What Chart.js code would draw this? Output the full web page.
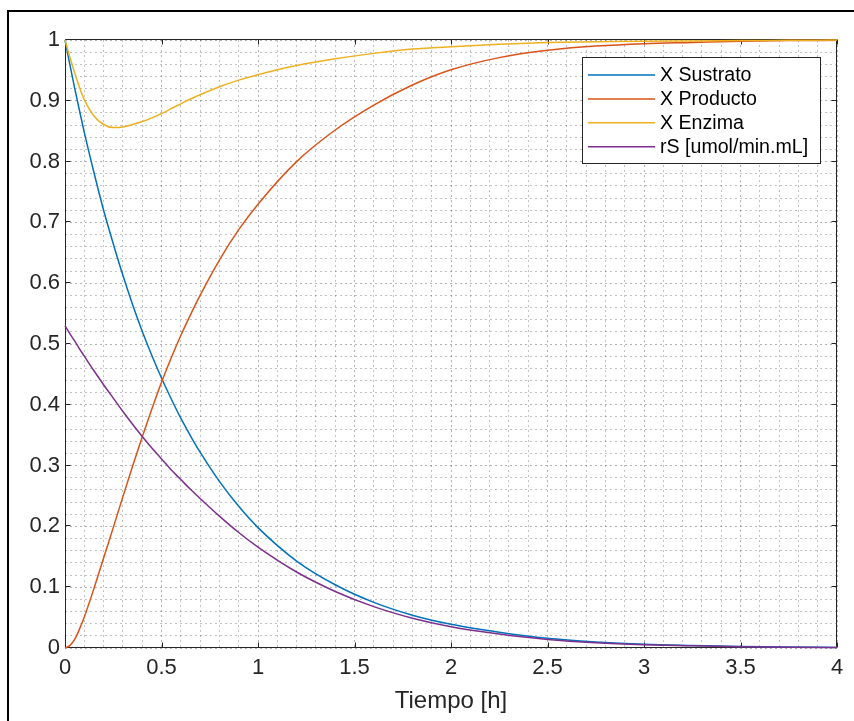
<!DOCTYPE html>
<html>
<head>
<meta charset="utf-8">
<script src="https://cdn.jsdelivr.net/npm/chart.js@4.4.1/dist/chart.umd.min.js"></script>
<style>
  html, body { margin: 0; padding: 0; background: #ffffff; }
  canvas { display: block; }
</style>
</head>
<body>
<canvas id="grafico" width="854" height="721"></canvas>
<script>
// Tiempo de reacción [h]
const tiempo = [0, 0.025, 0.05, 0.075, 0.1, 0.15, 0.2, 0.25, 0.3, 0.35, 0.4, 0.45, 0.5, 0.55, 0.6, 0.65, 0.7, 0.8, 0.9, 1.0,
                1.2, 1.4, 1.6, 1.8, 2.0, 2.25, 2.5, 2.75, 3.0, 3.25, 3.5, 3.75, 4.0];

// Fracciones adimensionales y velocidad de consumo de sustrato
const xSustrato = [1.000, 0.960, 0.921, 0.884, 0.848, 0.782, 0.720, 0.665, 0.613, 0.565, 0.521, 0.481, 0.444, 0.410, 0.378, 0.349, 0.322, 0.274, 0.233, 0.198,
                   0.143, 0.104, 0.075, 0.054, 0.039, 0.026, 0.016, 0.010, 0.006, 0.004, 0.0025, 0.0015, 0.001];
const xProducto = [0.000, 0.004, 0.014, 0.031, 0.051, 0.098, 0.148, 0.198, 0.249, 0.299, 0.347, 0.393, 0.437, 0.477, 0.514, 0.548, 0.580, 0.638, 0.688, 0.730,
                   0.800, 0.852, 0.893, 0.926, 0.951, 0.971, 0.983, 0.990, 0.994, 0.996, 0.998, 0.999, 0.9995];
const xEnzima   = [1.000, 0.972, 0.946, 0.922, 0.902, 0.875, 0.861, 0.856, 0.857, 0.861, 0.866, 0.872, 0.879, 0.887, 0.895, 0.903, 0.910, 0.923, 0.934, 0.943,
                   0.958, 0.969, 0.978, 0.985, 0.989, 0.993, 0.996, 0.997, 0.998, 0.9985, 0.999, 0.9995, 1.000];
const rS        = [0.530, 0.517, 0.505, 0.492, 0.480, 0.456, 0.433, 0.411, 0.389, 0.368, 0.348, 0.329, 0.311, 0.293, 0.277, 0.261, 0.246, 0.217, 0.190, 0.166,
                   0.125, 0.093, 0.068, 0.049, 0.035, 0.023, 0.014, 0.0085, 0.0053, 0.0035, 0.0022, 0.0013, 0.0009];

const nombresSeries = ['X Sustrato', 'X Producto', 'X Enzima', 'rS [umol/min.mL]'];
const coloresSeries = ['#0072BD', '#D95319', '#EDB120', '#7E2F8E'];

const xTickLabels = ['0', '0.5', '1', '1.5', '2', '2.5', '3', '3.5', '4'];
const yTickLabels = ['0', '0.1', '0.2', '0.3', '0.4', '0.5', '0.6', '0.7', '0.8', '0.9', '1'];
const tituloX = 'Tiempo [h]';

const FUENTE = "'Liberation Sans', Arial, Helvetica, sans-serif";
const GRIS_EJES = '#262626';

const valores = [xSustrato, xProducto, xEnzima, rS];
const datasets = valores.map((serie, i) => ({
  label: nombresSeries[i],
  data: tiempo.map((t, k) => ({ x: t, y: serie[k] })),
  borderColor: coloresSeries[i],
  backgroundColor: coloresSeries[i],
  borderWidth: 1.5,
  pointRadius: 0,
  fill: false,
  cubicInterpolationMode: 'monotone',
  clip: 3,
  order: valores.length - 1 - i
}));

// Fondo blanco y marco exterior de la figura
const marcoFigura = {
  id: 'marcoFigura',
  beforeDraw(chart) {
    const { ctx, width, height } = chart;
    ctx.save();
    ctx.fillStyle = '#ffffff';
    ctx.fillRect(0, 0, width, height);
    ctx.fillStyle = '#000000';
    ctx.fillRect(7, 10, width - 7, 2);
    ctx.fillRect(7, 10, 2, height - 10);
    ctx.restore();
  }
};

// Caja de ejes con marcas hacia dentro en los cuatro lados
const cajaEjes = {
  id: 'cajaEjes',
  beforeDatasetsDraw(chart) {
    const { ctx, chartArea: a, scales: { x, y } } = chart;
    const L = Math.round(a.left) + 0.5, R = Math.round(a.right) - 0.5;
    const T = Math.round(a.top) - 0.5, B = Math.round(a.bottom) - 0.5;
    const largo = 5;
    ctx.save();
    ctx.strokeStyle = GRIS_EJES;
    ctx.lineWidth = 1;
    ctx.beginPath();
    ctx.rect(L, T, R - L, B - T);
    xTickLabels.forEach(lbl => {
      const px = Math.round(x.getPixelForValue(parseFloat(lbl))) + 0.5;
      ctx.moveTo(px, B); ctx.lineTo(px, B - largo);
      ctx.moveTo(px, T); ctx.lineTo(px, T + largo);
    });
    yTickLabels.forEach(lbl => {
      const py = Math.round(y.getPixelForValue(parseFloat(lbl))) - 0.5;
      ctx.moveTo(L, py); ctx.lineTo(L + largo, py);
      ctx.moveTo(R, py); ctx.lineTo(R - largo, py);
    });
    ctx.stroke();
    ctx.restore();
  }
};

// Leyenda dentro del área de trazado, esquina superior derecha
const leyenda = {
  id: 'leyenda',
  afterDatasetsDraw(chart) {
    const { ctx, chartArea: a } = chart;
    const bx = Math.round(a.right) - 255, by = Math.round(a.top) + 17;
    const bw = 238, bh = 106;
    ctx.save();
    ctx.fillStyle = '#ffffff';
    ctx.fillRect(bx, by, bw, bh);
    ctx.strokeStyle = GRIS_EJES;
    ctx.lineWidth = 1;
    ctx.strokeRect(bx + 0.5, by + 0.5, bw, bh);
    ctx.font = '19.6px ' + FUENTE;
    ctx.textBaseline = 'middle';
    ctx.textAlign = 'left';
    chart.data.datasets.forEach((ds, i) => {
      const cy = by + 18 + i * 23.9;
      ctx.strokeStyle = ds.borderColor;
      ctx.lineWidth = 1.5;
      ctx.beginPath();
      ctx.moveTo(bx + 6, cy);
      ctx.lineTo(bx + 73, cy);
      ctx.stroke();
      ctx.fillStyle = '#000000';
      ctx.fillText(ds.label, bx + 78, cy + 1);
    });
    ctx.restore();
  }
};

const rejilla = (esPrincipal) => ({
  color: (c) => esPrincipal(c) ? 'rgba(0,0,0,0.30)' : 'rgba(0,0,0,0.24)',
  lineWidth: 1,
  drawTicks: false
});

new Chart(document.getElementById('grafico'), {
  type: 'line',
  data: { datasets },
  plugins: [marcoFigura, cajaEjes, leyenda],
  options: {
    responsive: false,
    animation: false,
    devicePixelRatio: 1,
    layout: { padding: { left: 0, top: 40, right: 17, bottom: 0 } },
    plugins: { legend: { display: false }, tooltip: { enabled: false } },
    scales: {
      x: {
        type: 'linear',
        min: 0, max: 4,
        ticks: {
          stepSize: 0.1,
          autoSkip: false,
          maxRotation: 0,
          padding: 7,
          color: GRIS_EJES,
          font: { family: FUENTE, size: 22 },
          callback: (v, i) => (i % 5 === 0 ? xTickLabels[i / 5] : '')
        },
        grid: rejilla(c => c.index % 5 === 0),
        border: { display: false, dash: [2, 3] },
        title: {
          display: true,
          text: tituloX,
          color: GRIS_EJES,
          font: { family: FUENTE, size: 24 },
          padding: { top: 0, bottom: 5 }
        },
        afterFit(s) { s.height = 73; }
      },
      y: {
        type: 'linear',
        min: 0, max: 1,
        ticks: {
          stepSize: 0.02,
          autoSkip: false,
          padding: 5,
          color: GRIS_EJES,
          font: { family: FUENTE, size: 22 },
          callback: (v, i) => (i % 5 === 0 ? yTickLabels[i / 5] : '')
        },
        grid: rejilla(c => c.index % 5 === 0),
        border: { display: false, dash: [2, 3] },
        afterFit(s) { s.width = 65; }
      }
    }
  }
});
</script>
</body>
</html>
